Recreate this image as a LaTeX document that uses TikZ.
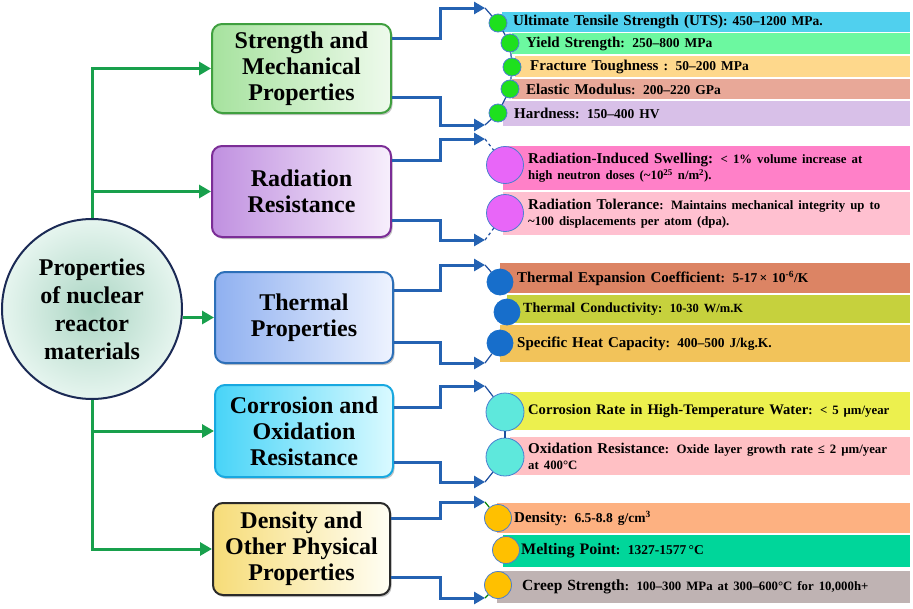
\documentclass[tikz,border=0pt]{standalone}
\usepackage{fontspec}
\setmainfont{Liberation Serif}
\usetikzlibrary{arrows.meta,shadows}
\definecolor{garr}{HTML}{18A04C}
\definecolor{barr}{HTML}{2462B2}
\definecolor{tlk}{HTML}{1F4F9F}
\definecolor{rootd}{HTML}{1B2A55}
\definecolor{rooti}{HTML}{ACD6C4}
\definecolor{rooto}{HTML}{E6F5EF}
\definecolor{bAl}{HTML}{A6E29E}\definecolor{bAr}{HTML}{EEFAEC}\definecolor{bAd}{HTML}{3F9F3F}
\definecolor{bBl}{HTML}{C090E0}\definecolor{bBr}{HTML}{F7EFFC}\definecolor{bBd}{HTML}{7B2D96}
\definecolor{bCl}{HTML}{8FB0F0}\definecolor{bCr}{HTML}{EEF3FF}\definecolor{bCd}{HTML}{2C6FB8}
\definecolor{bDl}{HTML}{48D4F8}\definecolor{bDr}{HTML}{DAFAFF}\definecolor{bDd}{HTML}{18A8E0}
\definecolor{bEl}{HTML}{F6DC78}\definecolor{bEr}{HTML}{FFFEF4}\definecolor{bEd}{HTML}{2A2A2A}
\definecolor{f1}{HTML}{50D0EE}\definecolor{f2}{HTML}{6CF8A0}\definecolor{f3}{HTML}{FED88C}
\definecolor{f4}{HTML}{E8A898}\definecolor{f5}{HTML}{D8C0E8}\definecolor{f6}{HTML}{FF80C8}
\definecolor{f7}{HTML}{FFC0D0}\definecolor{f8}{HTML}{DC8464}\definecolor{f9}{HTML}{C6D13D}
\definecolor{f10}{HTML}{F2C35A}\definecolor{f11}{HTML}{ECF04E}\definecolor{f12}{HTML}{FFC0C4}
\definecolor{f13}{HTML}{FDB181}\definecolor{f14}{HTML}{00D69A}\definecolor{f15}{HTML}{BFB3B3}
\definecolor{cg}{HTML}{1EE01E}\definecolor{cm}{HTML}{E866F8}\definecolor{cb}{HTML}{176ECB}
\definecolor{ct}{HTML}{5EE8DC}\definecolor{co}{HTML}{FFC000}\definecolor{cbd}{HTML}{4A7FD0}
\newcommand\pmain{\fontsize{15}{16}\selectfont\bfseries}
\newcommand\pval{\fontsize{13.5}{16}\selectfont}
\newcommand\pvals{\fontsize{12.8}{16}\selectfont}
\newcommand\pad[1]{\hspace*{#1}}
\tikzset{
  catbox/.style={rounded corners=10pt, line width=2pt, align=center, inner sep=0pt,
    font=\fontsize{24}{26}\selectfont\bfseries,
    drop shadow={shadow xshift=1.5pt,shadow yshift=-2pt,fill=black!45,opacity=.5}},
  bar/.style={anchor=north west, inner xsep=0pt, inner ysep=0pt, align=left, font=\pmain},
  dot/.style={circle, inner sep=0pt, draw=cbd, line width=0.8pt},
  garrow/.style={draw=garr, line width=3pt, -{Triangle[length=12pt,width=13pt]}},
  barrow/.style={draw=barr, line width=3pt, -{Triangle[length=11pt,width=12pt]}},
  tlink/.style={draw=tlk, line width=1.2pt},
}
\begin{document}
\begin{tikzpicture}[x=1pt,y=-1pt]
\useasboundingbox[fill=white] (0,0) rectangle (913,608);
% root
\node[circle, minimum size=180pt, inner sep=0pt, draw=rootd, line width=2pt,
  inner color=rooti, outer color=rooto, align=center,
  font=\fontsize{24}{28}\selectfont\bfseries] (root) at (92,309)
  {Properties\\of nuclear\\reactor\\materials};
% category boxes
\node[catbox, left color=bAl, right color=bAr, draw=bAd, minimum width=179pt, minimum height=89pt] (b1) at (301.5,68.5) {Strength and\\Mechanical\\Properties};
\node[catbox, left color=bBl, right color=bBr, draw=bBd, minimum width=179pt, minimum height=91pt] (b2) at (301.5,191.5) {Radiation\\Resistance};
\node[catbox, left color=bCl, right color=bCr, draw=bCd, minimum width=178pt, minimum height=91pt] (b3) at (304,317.5) {Thermal\\Properties};
\node[catbox, left color=bDl, right color=bDr, draw=bDd, minimum width=178pt, minimum height=92pt] (b4) at (304,431) {Corrosion and\\Oxidation\\Resistance};
\node[catbox, left color=bEl, right color=bEr, draw=bEd, minimum width=177pt, minimum height=92pt] (b5) at (301.5,549) {Density and\\Other Physical\\Properties};
% green arrows
\draw[garrow] (root.north) |- (b1.west);
\draw[garrow] (root.north |- b2.west) -- (b2.west);
\draw[garrow] (root.east |- b3.west) -- (b3.west);
\draw[garrow] (root.south |- b4.west) -- (b4.west);
\draw[garrow] (root.south) |- (b5.west);
% arrow end coordinates
\coordinate (a1u) at (485,8);   \coordinate (a1l) at (485,125);
\coordinate (a2u) at (485,139); \coordinate (a2l) at (485,240);
\coordinate (a3u) at (485,265); \coordinate (a3l) at (485,363);
\coordinate (a4u) at (485,386); \coordinate (a4l) at (485,482);
\coordinate (a5u) at (485,502); \coordinate (a5l) at (485,598);
% blue connectors
\draw[barrow] (b1.east |- 0,38) -| (440,8) -- (a1u);
\draw[barrow] (b1.east |- 0,97) -| (440,125) -- (a1l);
\draw[barrow] (b2.east |- 0,160) -| (440,139) -- (a2u);
\draw[barrow] (b2.east |- 0,220) -| (440,240) -- (a2l);
\draw[barrow] (b3.east |- 0,290) -| (440,265) -- (a3u);
\draw[barrow] (b3.east |- 0,342) -| (440,363) -- (a3l);
\draw[barrow] (b4.east |- 0,407) -| (440,386) -- (a4u);
\draw[barrow] (b4.east |- 0,462) -| (440,482) -- (a4l);
\draw[barrow] (b5.east |- 0,518) -| (440,502) -- (a5u);
\draw[barrow] (b5.east |- 0,577) -| (440,598) -- (a5l);
% bars
\node[bar, fill=f1, text width=408pt, minimum height=20pt] (r1) at (502,12) {\pad{11pt}Ultimate Tensile Strength (UTS){\pval: 450–1200 MPa.}};
\node[bar, fill=f2, text width=398pt, minimum height=21pt] (r2) at (512,33) {\pad{14pt}Yield Strength{\pval: 250–800 MPa}};
\node[bar, fill=f3, text width=395pt, minimum height=21pt] (r3) at (515,56) {\pad{15pt}Fracture Toughness {\pval: 50–200 MPa}};
\node[bar, fill=f4, text width=398pt, minimum height=20pt] (r4) at (512,79) {\pad{14pt}Elastic Modulus{\pval: 200–220 GPa}};
\node[bar, fill=f5, text width=407pt, minimum height=25pt] (r5) at (503,101) {\pad{11pt}Hardness{\pval: 150–400 HV}};
\node[bar, fill=f6, text width=407pt, minimum height=44pt] (r6) at (503,146) {\pad{25pt}Radiation-Induced Swelling: {\pvals< 1\% volume increase at}\\\pad{25pt}{\pvals high neutron doses (\textasciitilde10\textsuperscript{25} n/m\textsuperscript{2}).}};
\node[bar, fill=f7, text width=407pt, minimum height=43pt] (r7) at (503,192) {\pad{25pt}Radiation Tolerance{\pvals: Maintains mechanical integrity up to}\\\pad{25pt}{\pvals \textasciitilde100 displacements per atom (dpa).}};
\node[bar, fill=f8, text width=410pt, minimum height=30pt] (r8) at (500,263) {\pad{17pt}Thermal Expansion Coefficient{\pval: 5-17\,× 10\textsuperscript{-6}/K}};
\node[bar, fill=f9, text width=403pt, minimum height=28pt] (r9) at (507,295) {\pad{16pt}{\fontsize{14}{16}\selectfont Thermal Conductivity}{\fontsize{12.5}{16}\selectfont: 10-30 W/m.K}};
\node[bar, fill=f10, text width=410pt, minimum height=37pt] (r10) at (500,325) {\pad{17pt}Specific Heat Capacity{\pval: 400–500 J/kg.K.}};
\node[bar, fill=f11, text width=400pt, minimum height=38pt] (r11) at (510,392) {\pad{18pt}{\fontsize{14.6}{16}\selectfont Corrosion Rate in High-Temperature Water}{\pvals: < 5 μm/year}};
\node[bar, fill=f12, text width=400pt, minimum height=38pt] (r12) at (510,437) {\pad{18pt}Oxidation Resistance{\pvals: Oxide layer growth rate ≤ 2 μm/year}\\\pad{18pt}{\pvals at 400°C}};
\node[bar, fill=f13, text width=413pt, minimum height=30pt] (r13) at (497,503) {\pad{17pt}Density{\pval: 6.5-8.8 g/cm\textsuperscript{3}}};
\node[bar, fill=f14, text width=407pt, minimum height=32pt] (r14) at (503,535) {\pad{18pt}{\fontsize{16}{16}\selectfont Melting Point}{\pval: 1327-1577\,°C}};
\node[bar, fill=f15, text width=413pt, minimum height=32pt] (r15) at (497,571) {\pad{25pt}{\fontsize{15.5}{16}\selectfont Creep Strength}{\pvals: 100–300 MPa at 300–600°C for 10,000h+}};
% dots
\node[dot, fill=cg, minimum size=18pt] (c1) at (498,23) {};
\node[dot, fill=cg, minimum size=18pt] (c2) at (510,43) {};
\node[dot, fill=cg, minimum size=18pt] (c3) at (512,67) {};
\node[dot, fill=cg, minimum size=18pt] (c4) at (510,89) {};
\node[dot, fill=cg, minimum size=18pt] (c5) at (498,113) {};
\node[dot, fill=cm, minimum size=37pt] (c6) at (505,165) {};
\node[dot, fill=cm, minimum size=37pt] (c7) at (505,213) {};
\node[dot, fill=cb, draw=cb, minimum size=26pt] (c8) at (500,282) {};
\node[dot, fill=cb, draw=cb, minimum size=26pt] (c9) at (507,312) {};
\node[dot, fill=cb, draw=cb, minimum size=26pt] (c10) at (500,343) {};
\node[dot, fill=ct, minimum size=38pt] (c11) at (505,412) {};
\node[dot, fill=ct, minimum size=38pt] (c12) at (505,457) {};
\node[dot, fill=co, minimum size=27pt] (c13) at (498,518) {};
\node[dot, fill=co, minimum size=27pt] (c14) at (506,550) {};
\node[dot, fill=co, minimum size=27pt] (c15) at (498,585) {};
% thin links
\draw[tlink] (a1u) -- (c1);
\draw[tlink] (a1l) -- (c5);
\draw[tlink] (c1) -- (c2) -- (c3) -- (c4) -- (c5);
\draw[tlink, dashed] (a2u) -- (c6);
\draw[tlink, dashed] (a2l) -- (c7);
\draw[tlink] (a3u) -- (c8);
\draw[tlink] (a3l) -- (c10);
\draw[tlink] (a4u) -- (c11);
\draw[tlink] (a4l) -- (c12);
\draw[tlink] (c11) -- (c12);
\draw[tlink, draw=green!50!black] (a5u) -- (c13);
\draw[tlink, draw=green!50!black] (a5l) -- (c15);
\end{tikzpicture}
\end{document}
